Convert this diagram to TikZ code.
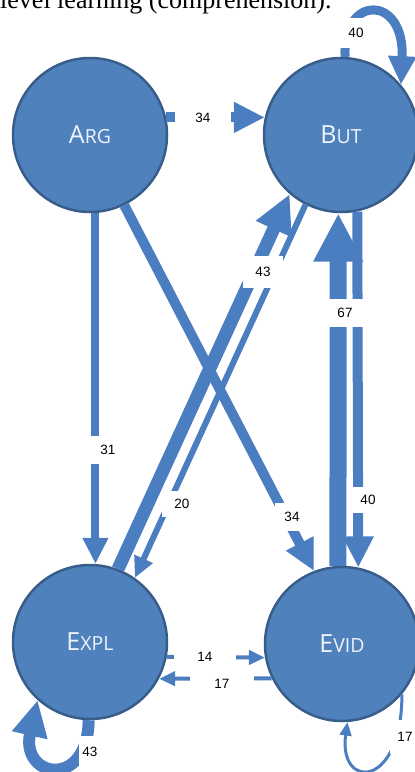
\documentclass[tikz,border=0pt]{standalone}
\usepackage{fontspec}
\setmainfont{Liberation Sans}
\newfontfamily\capsfont{Open Sans}
\newfontfamily\captionserif{Liberation Serif}
\usetikzlibrary{arrows.meta}

\definecolor{statefill}{RGB}{79,129,189}
\definecolor{stateline}{RGB}{56,93,138}
\definecolor{flow}{RGB}{74,126,193}
\definecolor{statetext}{RGB}{240,243,250}

% fake small caps: large initial, smaller rest
\newcommand\smallcapsword[2]{{\fontsize{25}{25}\selectfont #1}{\fontsize{19.5}{19.5}\selectfont #2}}

\begin{document}
\begin{tikzpicture}[x=1pt,y=1pt,
  state/.style={circle, fill=statefill, draw=stateline, line width=2.5pt,
    minimum size=154pt, inner sep=0pt, text=statetext, font=\capsfont},
  flowline/.style={draw=flow, line width=#1,
    -{Triangle[length=6pt 2.5, width=4pt 2.5]}},
  count/.style={fill=white, inner sep=0pt, text=black,
    font=\fontsize{13.5}{13.5}\selectfont},
]
\useasboundingbox (0,0) rectangle (415,-772);
\clip (0,0) rectangle (415,-772);

% running text above the figure
\node[anchor=base west, inner sep=0pt,
  font=\captionserif\fontsize{26}{26}\selectfont] (caption) at (0,-8)
  {level learning (comprehension).};

% states
\node[state] (arg)  at (90,-135)  {\smallcapsword{A}{RG}};
\node[state] (but)  at (341,-135) {\smallcapsword{B}{UT}};
\node[state] (expl) at (90,-642)  {\smallcapsword{E}{XPL}};
\node[state] (evid) at (342,-644) {\smallcapsword{E}{VID}};

% transitions, width by count
\draw[flowline=10pt] (arg.13) -- (but.167);
\draw[flowline=9pt] (but.87) .. controls (342,6) and (405,6) .. (but.40);
\draw[flowline=8pt] (arg.-86) -- (expl.86);
\draw[flowline=10pt] (arg.-64) -- (evid.111);
\draw[flowline=13pt] (expl.69) -- (but.-131);
\draw[flowline=6pt] (but.-117) -- (expl.55);
\draw[flowline=17pt] (evid.93) -- (but.-92);
\draw[flowline=10pt] (but.-78) -- (evid.78);
\draw[flowline=4pt] (expl.-11) -- (evid.190);
\draw[flowline=4pt] (evid.206) -- (expl.-28);
\draw[flowline=12pt] (expl.-91) .. controls (88,-790) and (20,-778) .. (expl.-132);
\draw[flowline=3pt] (evid.-40) .. controls (402,-790) and (338,-790) .. (evid.-86);

% counts
\node[count, minimum width=56pt, minimum height=24pt] (c1)  at (203,-118) {34};
\node[count, minimum width=50pt, minimum height=30pt] (c2)  at (356,-33)  {40};
\node[count, minimum width=40pt, minimum height=28pt] (c3)  at (108,-450) {31};
\node[count, minimum width=34pt, minimum height=28pt] (c4)  at (292,-517) {34};
\node[count, minimum width=40pt, minimum height=32pt] (c5)  at (263,-272) {43};
\node[count, minimum width=40pt, minimum height=26pt] (c6)  at (182,-504) {20};
\node[count, minimum width=42pt, minimum height=28pt] (c7)  at (345,-313) {67};
\node[count, minimum width=38pt, minimum height=26pt] (c8)  at (368,-500) {40};
\node[count, minimum width=62pt, minimum height=22pt] (c9)  at (205,-657) {14};
\node[count, minimum width=64pt, minimum height=22pt] (c10) at (222,-684) {17};
\node[count, minimum width=22pt, minimum height=32pt] (c11) at (90,-752)  {43};
\node[count, minimum width=30pt, minimum height=34pt] (c12) at (405,-737) {17};
\end{tikzpicture}
\end{document}
